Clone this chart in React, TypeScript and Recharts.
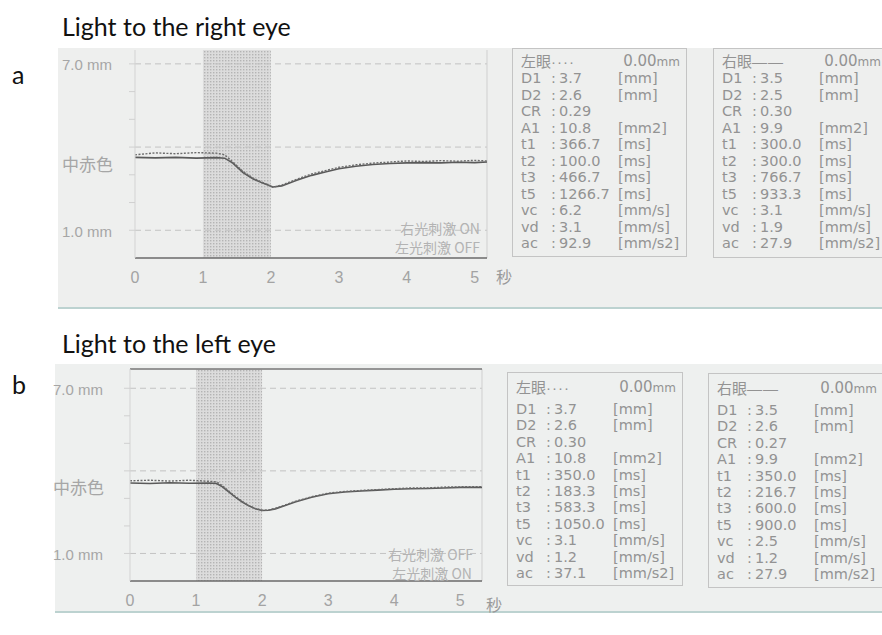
import React from "react";
import { LineChart, Line, XAxis, YAxis, ReferenceLine, ReferenceArea } from "recharts";

// time (s) and pupil diameter (mm)
const timeA = [0, 0.3, 0.6, 0.9, 1.2, 1.32, 1.44, 1.59, 1.74, 1.88, 2.03, 2.16, 2.38, 2.6, 2.8, 3.0, 3.25, 3.5, 3.75, 4.0, 4.25, 4.5, 4.75, 5.0, 5.18];
const rightEyeA = [3.63, 3.61, 3.63, 3.6, 3.62, 3.6, 3.42, 3.08, 2.85, 2.7, 2.56, 2.6, 2.8, 2.98, 3.1, 3.22, 3.31, 3.37, 3.41, 3.43, 3.44, 3.43, 3.45, 3.44, 3.46];
const leftEyeA = [3.72, 3.79, 3.76, 3.8, 3.78, 3.72, 3.46, 3.12, 2.88, 2.72, 2.55, 2.63, 2.84, 3.03, 3.15, 3.27, 3.36, 3.42, 3.46, 3.5, 3.48, 3.51, 3.49, 3.52, 3.5];

const timeB = [0, 0.3, 0.6, 0.9, 1.2, 1.31, 1.4, 1.5, 1.6, 1.7, 1.8, 1.9, 2.0, 2.1, 2.2, 2.35, 2.5, 2.75, 3.0, 3.25, 3.5, 3.75, 4.0, 4.25, 4.5, 4.75, 5.0, 5.33];
const rightEyeB = [3.56, 3.54, 3.57, 3.55, 3.56, 3.54, 3.42, 3.23, 3.04, 2.87, 2.73, 2.62, 2.56, 2.57, 2.62, 2.74, 2.87, 3.04, 3.17, 3.23, 3.27, 3.3, 3.33, 3.35, 3.36, 3.38, 3.4, 3.4];
const leftEyeB = [3.64, 3.66, 3.63, 3.66, 3.62, 3.6, 3.46, 3.26, 3.06, 2.89, 2.74, 2.63, 2.57, 2.58, 2.64, 2.76, 2.89, 3.06, 3.19, 3.25, 3.29, 3.32, 3.35, 3.38, 3.38, 3.41, 3.42, 3.43];

const xTicks = [0, 1, 2, 3, 4, 5];
const yTicks = [1, 2, 3, 4, 5, 6, 7];
const yGuides = [1, 4, 7];
const yLabels: Record<number, string> = { 7: "7.0 mm", 4: "中赤色", 1: "1.0 mm" };

const statNames = ["D1", "D2", "CR", "A1", "t1", "t2", "t3", "t5", "vc", "vd", "ac"];
const statUnits = ["[mm]", "[mm]", "", "[mm2]", "[ms]", "[ms]", "[ms]", "[ms]", "[mm/s]", "[mm/s]", "[mm/s2]"];
const leftStatsA = ["3.7", "2.6", "0.29", "10.8", "366.7", "100.0", "466.7", "1266.7", "6.2", "3.1", "92.9"];
const rightStatsA = ["3.5", "2.5", "0.30", "9.9", "300.0", "300.0", "766.7", "933.3", "3.1", "1.9", "27.9"];
const leftStatsB = ["3.7", "2.6", "0.30", "10.8", "350.0", "183.3", "583.3", "1050.0", "3.1", "1.2", "37.1"];
const rightStatsB = ["3.5", "2.6", "0.27", "9.9", "350.0", "216.7", "600.0", "900.0", "2.5", "1.2", "27.9"];

const dataA = timeA.map((t, i) => ({ t, right: rightEyeA[i], left: leftEyeA[i] }));
const dataB = timeB.map((t, i) => ({ t, right: rightEyeB[i], left: leftEyeB[i] }));

const traceColor = "#5a5a5a";
const printGrey = "#939393";
const sans = "'Liberation Sans', Arial, 'Noto Sans CJK JP', sans-serif";
const wide = "'DejaVu Sans', 'Liberation Sans', sans-serif";
const cjk = "'Noto Sans CJK JP', sans-serif";

function PupilChart(props: {
  id: string;
  data: any[];
  top: number;
  height: number;
  plotLeft: number;
  plotTop: number;
  rightMargin: number;
  xMax: number;
  yMax: number;
  labelX: number;
  topFrame?: boolean;
}) {
  const { id, data, top, height, plotLeft, plotTop, rightMargin, xMax, yMax, labelX, topFrame } = props;
  const renderTick = (p: any) => {
    const v = p.payload.value;
    const label = yLabels[v];
    if (!label) return <g />;
    return (
      <text
        x={labelX}
        y={p.y + (v === 4 ? 16 : 1)}
        fill="#a6a6a6"
        fontSize={v === 4 ? 17 : 15}
        fontFamily={v === 4 ? cjk : sans}
        dominantBaseline="central"
      >
        {label}
      </text>
    );
  };
  return (
    <div style={{ position: "absolute", left: 0, top }}>
      <LineChart
        width={500}
        height={height}
        data={data}
        margin={{ top: plotTop, right: rightMargin, left: 0, bottom: 12 }}
      >
        <defs>
          <pattern id={id} width="3" height="3" patternUnits="userSpaceOnUse">
            <rect width="3" height="3" fill="#dcdcdc" />
            <rect width="1.4" height="1.4" fill="#b4b4b4" />
          </pattern>
        </defs>
        <XAxis
          dataKey="t"
          type="number"
          domain={[0, xMax]}
          ticks={xTicks}
          height={30}
          axisLine={{ stroke: "#6a6a6a", strokeWidth: 1.5 }}
          tickLine={false}
          tickMargin={8}
          tick={{ fill: "#a3a3a3", fontSize: 16, fontFamily: sans }}
        />
        <YAxis
          type="number"
          domain={[0, yMax]}
          ticks={yTicks}
          interval={0}
          width={plotLeft}
          axisLine={{ stroke: "#d3d3d3" }}
          tickLine={{ stroke: "#d0d0d0" }}
          tickSize={6}
          tick={renderTick}
        />
        <ReferenceArea x1={1} x2={2} fill={`url(#${id})`} fillOpacity={1} stroke="none" />
        {yGuides.map((v) => (
          <ReferenceLine key={v} y={v} stroke="#c3c3c3" strokeDasharray="6 4" />
        ))}
        <ReferenceLine x={xMax} stroke="#cfcfcf" />
        {topFrame && <ReferenceLine y={yMax} stroke="#777777" strokeWidth={1.5} />}
        <Line
          type="linear"
          dataKey="right"
          stroke={traceColor}
          strokeWidth={1.6}
          dot={false}
          isAnimationActive={false}
        />
        <Line
          type="linear"
          dataKey="left"
          stroke="#6b6b6b"
          strokeWidth={1.4}
          strokeDasharray="2 1.5"
          dot={false}
          isAnimationActive={false}
        />
      </LineChart>
    </div>
  );
}

function StatsBox(props: {
  left: number;
  top: number;
  width: number;
  height: number;
  eye: string;
  mark: string;
  values: string[];
  headTop: number;
  rowTop: number;
  rowGap: number;
}) {
  const { left, top, width, height, eye, mark, values, headTop, rowTop, rowGap } = props;
  const cell = (x: number, y: number, text: string) => (
    <span style={{ position: "absolute", left: x, top: y - 8, lineHeight: "16px", whiteSpace: "nowrap" }}>
      {text}
    </span>
  );
  return (
    <div
      style={{
        position: "absolute",
        left,
        top,
        width,
        height,
        border: "1px solid #c4c4c4",
        boxSizing: "border-box",
        color: printGrey,
        fontFamily: wide,
        fontSize: 14.5,
      }}
    >
      <span style={{ position: "absolute", left: 8, top: headTop - 8, lineHeight: "16px", fontFamily: cjk, fontSize: 15, whiteSpace: "nowrap" }}>
        {eye}
        <span style={{ fontFamily: sans, letterSpacing: 1 }}>{mark}</span>
      </span>
      <span style={{ position: "absolute", right: 6, top: headTop - 8, lineHeight: "16px", fontSize: 15, whiteSpace: "nowrap" }}>
        0.00<span style={{ fontSize: 12 }}>mm</span>
      </span>
      {statNames.map((n, i) => (
        <React.Fragment key={n}>
          {cell(8, rowTop + i * rowGap, n)}
          {cell(38, rowTop + i * rowGap, ":")}
          {cell(46, rowTop + i * rowGap, values[i])}
          {cell(105, rowTop + i * rowGap, statUnits[i])}
        </React.Fragment>
      ))}
    </div>
  );
}

const note = (right: number, y: number, text: string) => (
  <div
    style={{
      position: "absolute",
      right: 882 - right,
      top: y - 8,
      lineHeight: "16px",
      fontSize: 14,
      color: "#b3b3b3",
      fontFamily: cjk,
      whiteSpace: "nowrap",
    }}
  >
    {text}
  </div>
);

export default function App() {
  const heading = { position: "absolute" as const, fontFamily: "Lato, 'Open Sans', sans-serif", fontSize: 25, color: "#111", lineHeight: "30px", whiteSpace: "nowrap" as const };
  return (
    <div style={{ position: "absolute", left: 0, top: 0, width: 882, height: 635, background: "#ffffff", overflow: "hidden" }}>
      <div style={{ ...heading, left: 62, top: 11 }}>Light to the right eye</div>
      <div style={{ ...heading, left: 12, top: 59 }}>a</div>
      <div style={{ position: "absolute", left: 58, top: 48, width: 824, height: 259, background: "#eeefee", borderBottom: "2px solid #bcd2d0" }} />
      <PupilChart id="dotsA" data={dataA} top={0} height={300} plotLeft={135} plotTop={50} rightMargin={13} xMax={5.18} yMax={7.5} labelX={62} />
      {note(480, 228, "右光刺激 ON")}
      {note(480, 247, "左光刺激 OFF")}
      <div style={{ position: "absolute", left: 496, top: 267, fontSize: 16, color: "#9a9a9a", fontFamily: cjk, lineHeight: "18px" }}>秒</div>
      <StatsBox left={512} top={48} width={175} height={209} eye="左眼" mark="····" values={leftStatsA} headTop={12} rowTop={29} rowGap={16.5} />
      <StatsBox left={713} top={48} width={175} height={210} eye="右眼" mark="——" values={rightStatsA} headTop={12} rowTop={29} rowGap={16.5} />

      <div style={{ ...heading, left: 62, top: 328 }}>Light to the left eye</div>
      <div style={{ ...heading, left: 12, top: 369 }}>b</div>
      <div style={{ position: "absolute", left: 55, top: 364, width: 827, height: 247, background: "#eef0ef", borderBottom: "2px solid #bcd2d0" }} />
      <PupilChart id="dotsB" data={dataB} top={319} height={304} plotLeft={130} plotTop={50} rightMargin={18} xMax={5.33} yMax={7.7} labelX={53} topFrame />
      {note(473, 554, "右光刺激 OFF")}
      {note(472, 573, "左光刺激 ON")}
      <div style={{ position: "absolute", left: 486, top: 595, fontSize: 16, color: "#9a9a9a", fontFamily: cjk, lineHeight: "18px" }}>秒</div>
      <StatsBox left={507} top={372} width={176} height={214} eye="左眼" mark="····" values={leftStatsB} headTop={14} rowTop={36} rowGap={16.4} />
      <StatsBox left={708} top={373} width={176} height={215} eye="右眼" mark="——" values={rightStatsB} headTop={14} rowTop={36} rowGap={16.4} />
    </div>
  );
}
